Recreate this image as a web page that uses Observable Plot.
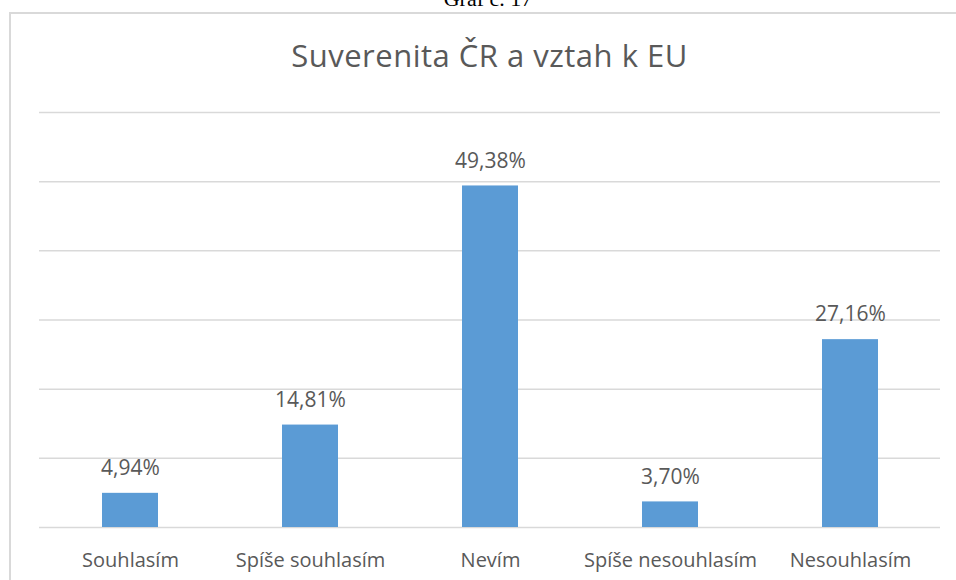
<!DOCTYPE html>
<html>
<head>
<meta charset="utf-8">
<script src="https://cdn.jsdelivr.net/npm/d3@7"></script>
<script src="https://cdn.jsdelivr.net/npm/@observablehq/plot@0.6"></script>
<style>
  html, body { margin: 0; padding: 0; background: #fff; overflow: hidden; }
  #wrap { position: relative; width: 956px; height: 580px; overflow: hidden; }
  #frame { position: absolute; left: 9px; top: 12px; width: 980px; height: 600px;
           border-left: 2px solid #d9d9d9; border-top: 2px solid #d9d9d9; }
  #caption { position: absolute; left: 388px; width: 200px; top: -12px; text-align: center;
             font-family: "Liberation Serif", serif; font-size: 22px; line-height: 1; color: #000; }
  #title { position: absolute; left: 0; width: 979px; top: 39.5px; text-align: center;
           font-family: "Open Sans", sans-serif; font-size: 31px; line-height: 1;
           letter-spacing: 0.5px; color: #595959; }
  #chart { position: absolute; left: 0; top: 0; }
</style>
</head>
<body>
<div id="wrap">
  <div id="frame"></div>
  <div id="caption">Graf č. 17</div>
  <div id="chart"></div>
  <div id="title">Suverenita ČR a vztah k EU</div>
</div>
<script>
const categories = ["Souhlasím", "Spíše souhlasím", "Nevím", "Spíše nesouhlasím", "Nesouhlasím"];
const values = [4.94, 14.81, 49.38, 3.70, 27.16];
const valueLabels = ["4,94%", "14,81%", "49,38%", "3,70%", "27,16%"];
const gridTicks = [0, 10, 20, 30, 40, 50, 60];

const data = categories.map((c, i) => ({category: c, value: values[i], label: valueLabels[i]}));

const chart = Plot.plot({
  width: 956,
  height: 580,
  marginLeft: 39,
  marginRight: 16,
  marginTop: 112,
  marginBottom: 53,
  style: {fontFamily: "Open Sans", background: "transparent", color: "#595959", overflow: "visible"},
  x: {domain: categories, paddingInner: 0.69, paddingOuter: 0.345, label: null},
  y: {domain: [0, 60], axis: null},
  marks: [
    Plot.ruleY(gridTicks, {stroke: "#d9d9d9", strokeWidth: 1.5}),
    Plot.barY(data, {x: "category", y: "value", fill: "#5b9bd5"}),
    Plot.text(data, {x: "category", y: "value", text: "label", dy: -25, fontSize: 21, fill: "#595959"}),
    Plot.axisX({tickSize: 0, tickPadding: 25, fontSize: 20, fill: "#595959", label: null})
  ]
});
document.getElementById("chart").appendChild(chart);
</script>
</body>
</html>
